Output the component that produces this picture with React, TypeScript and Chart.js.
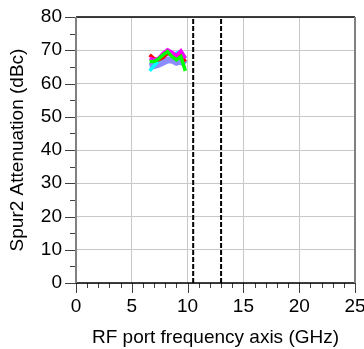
import React, { useEffect, useRef } from "react";
import { Chart, registerables } from "chart.js";
Chart.register(...registerables);

const freqs = [6.6, 7.0, 7.4, 7.8, 8.2, 8.6, 9.0, 9.4, 9.8];
const violetVals = [65.1, 65.4, 65.8, 66.4, 67.1, 67.1, 66.4, 66.8, 65.8];
const cyanVals = [63.8, 65.4, 66.8, 68.1, 69.1, 68.6, 69.1, 69.6, 67.6];
const redVals = [68.6, 67.4, 67.1, 67.8, 69.1, 68.6, 67.6, 68.8, 66.6];
const magentaVals = [67.6, 67.1, 67.6, 69.1, 70.1, 69.4, 68.4, 69.8, 67.6];
const greenVals = [66.6, 66.6, 67.4, 68.6, 69.6, 68.1, 67.1, 68.1, 63.8];
const markerFreqs = [10.5, 13];
const xTickVals = [0, 5, 10, 15, 20, 25];
const yTickVals = [0, 10, 20, 30, 40, 50, 60, 70, 80];

const FONT = "'Liberation Sans', Arial, sans-serif";
const FS = 19;

export default function App() {
  const ref = useRef<HTMLCanvasElement>(null);
  useEffect(() => {
    if (!ref.current) return;
    const series = [
      { label: "violet", vals: violetVals, color: "#8c8cff", width: 7, order: 6 },
      { label: "cyan", vals: cyanVals, color: "#00ffff", width: 3.5, order: 5 },
      { label: "red", vals: redVals, color: "#ff0000", width: 3.5, order: 4 },
      { label: "magenta", vals: magentaVals, color: "#ff00ff", width: 3.5, order: 3 },
      { label: "green", vals: greenVals, color: "#00ff00", width: 3.5, order: 2 },
    ];
    const datasets: any[] = series.map((s) => ({
      type: "line",
      label: s.label,
      data: freqs.map((f, i) => ({ x: f, y: s.vals[i] })),
      borderColor: s.color,
      borderWidth: s.width,
      pointRadius: 0,
      fill: false,
      order: s.order,
    }));
    markerFreqs.forEach((m) => {
      datasets.push({
        type: "line",
        label: "marker " + m,
        data: [
          { x: m, y: 0 },
          { x: m, y: 80 },
        ],
        borderColor: "#000",
        borderWidth: 2,
        borderDash: [5, 2],
        pointRadius: 0,
        fill: false,
        order: 1,
      });
    });

    const axisDeco = {
      id: "axisDeco",
      afterDatasetsDraw(chart: any) {
        const { ctx, chartArea } = chart;
        const { left, right, top, bottom } = chartArea;
        const xs = chart.scales.x;
        const ys = chart.scales.y;
        ctx.save();
        ctx.strokeStyle = "#404040";
        ctx.lineWidth = 1;
        for (let v = 0; v <= 25; v += 1) {
          const px = Math.round(xs.getPixelForValue(v)) + 0.5;
          const len = v % 5 === 0 ? 10 : 5;
          ctx.beginPath();
          ctx.moveTo(px, bottom);
          ctx.lineTo(px, bottom + len);
          ctx.stroke();
        }
        for (let v = 0; v <= 80; v += 5) {
          const py = Math.round(ys.getPixelForValue(v)) + 0.5;
          const len = v % 10 === 0 ? 11 : 6;
          ctx.beginPath();
          ctx.moveTo(left - len, py);
          ctx.lineTo(left, py);
          ctx.stroke();
        }
        ctx.strokeStyle = "#000";
        ctx.lineWidth = 1.5;
        ctx.beginPath();
        ctx.moveTo(left, top);
        ctx.lineTo(right, top);
        ctx.moveTo(left, bottom);
        ctx.lineTo(right, bottom);
        ctx.stroke();
        ctx.strokeStyle = "#808080";
        ctx.lineWidth = 2;
        ctx.beginPath();
        ctx.moveTo(left, top);
        ctx.lineTo(left, bottom);
        ctx.moveTo(right, top);
        ctx.lineTo(right, bottom);
        ctx.stroke();
        ctx.restore();
      },
    };

    const chart = new Chart(ref.current, {
      type: "line",
      data: { datasets },
      options: {
        animation: false,
        responsive: false,
        layout: { padding: { top: 17, right: 9, left: 0, bottom: 0 } },
        plugins: { legend: { display: false }, tooltip: { enabled: false } },
        scales: {
          x: {
            type: "linear",
            min: 0,
            max: 25,
            afterBuildTicks: (s: any) => {
              s.ticks = xTickVals.map((v) => ({ value: v }));
            },
            afterFit: (s: any) => {
              s.height = 66;
              s.paddingLeft = 0;
              s.paddingRight = 0;
            },
            grid: { color: "#c8c8c8", drawTicks: false, lineWidth: 1 },
            border: { display: false },
            ticks: { padding: 12, font: { size: FS, family: FONT }, color: "#000", maxRotation: 0 },
            title: {
              display: true,
              text: "RF port frequency axis (GHz)",
              font: { size: FS, family: FONT },
              color: "#000",
              padding: { top: 0, bottom: 0 },
            },
          },
          y: {
            type: "linear",
            min: 0,
            max: 80,
            afterBuildTicks: (s: any) => {
              s.ticks = yTickVals.map((v) => ({ value: v }));
            },
            afterFit: (s: any) => {
              s.width = 76;
              s.paddingTop = 0;
              s.paddingBottom = 0;
            },
            grid: { color: "#c8c8c8", drawTicks: false, lineWidth: 1 },
            border: { display: false },
            ticks: { padding: 14, font: { size: FS, family: FONT }, color: "#000" },
            title: {
              display: true,
              text: "Spur2 Attenuation (dBc)",
              font: { size: FS, family: FONT },
              color: "#000",
              padding: { top: 6, bottom: 0 },
            },
          },
        },
      },
      plugins: [axisDeco],
    } as any);
    return () => chart.destroy();
  }, []);
  return (
    <div style={{ position: "fixed", left: 0, top: 0, width: 364, height: 349, background: "#fff" }}>
      <canvas ref={ref} width={364} height={349} style={{ width: 364, height: 349, display: "block" }} />
    </div>
  );
}
